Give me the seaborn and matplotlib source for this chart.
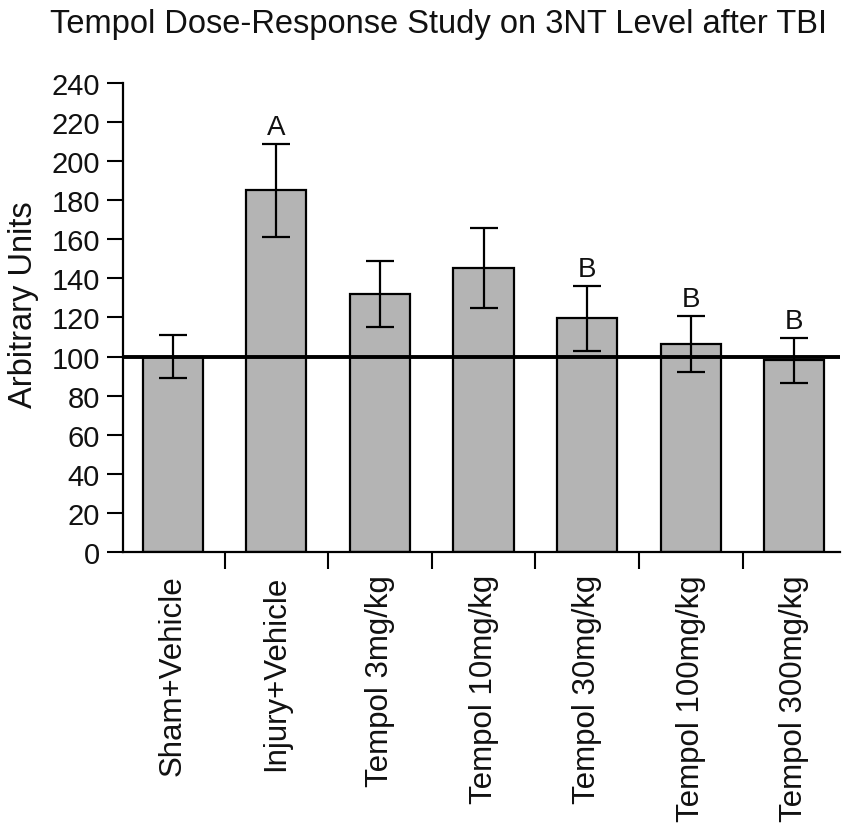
import matplotlib
matplotlib.use("Agg")
import matplotlib.pyplot as plt
import seaborn as sns
import numpy as np
import pandas as pd
from matplotlib.ticker import FixedLocator, MultipleLocator

categories = ["Sham+Vehicle", "Injury+Vehicle", "Tempol 3mg/kg", "Tempol 10mg/kg",
              "Tempol 30mg/kg", "Tempol 100mg/kg", "Tempol 300mg/kg"]
means = [100, 185, 132, 145.5, 119.5, 106.5, 98]
errors = [11, 24, 17, 20.5, 16.5, 14.5, 11.5]
letters = ["", "A", "", "", "B", "B", "B"]
reference_level = 100

sns.set_theme(style="white")
plt.rcParams['font.family'] = ['Liberation Sans', 'DejaVu Sans']

fig = plt.figure(figsize=(8.44, 8.28), dpi=100)
ax = fig.add_axes([0.1457, 0.3321, 0.8495, 0.5665])

df = pd.DataFrame({"group": categories, "value": means})
sns.barplot(data=df, x="group", y="value", color="#b4b4b4", saturation=1,
            edgecolor="black", linewidth=1.6, width=0.58, ax=ax, errorbar=None)

xs = np.arange(len(categories))
ax.errorbar(xs, means, yerr=errors, fmt="none", ecolor="black",
            elinewidth=1.6, capsize=10, capthick=1.6, zorder=5)

ax.axhline(reference_level, color="black", lw=2.8, zorder=6)

for x, m, e, t in zip(xs, means, errors, letters):
    if t:
        ax.text(x, m + e + 5, t, ha="center", va="baseline",
                fontsize=20, color="#111111")

ax.set_xlim(-0.48, 6.44)
ax.set_ylim(0, 240)
ax.yaxis.set_major_locator(MultipleLocator(20))

ax.xaxis.set_minor_locator(FixedLocator(np.arange(-0.5, 6.5, 1.0)))
ax.tick_params(axis="x", which="major", length=0, pad=16, labelsize=22.5,
               labelcolor="#111111")
ax.tick_params(axis="x", which="minor", length=12, width=1.5, color="black",
               direction="out", bottom=True)
ax.tick_params(axis="y", which="major", length=11.5, width=1.5, color="black",
               direction="out", left=True, pad=5, labelsize=21,
               labelcolor="#111111")
ax.set_xticks(xs)
ax.set_xticklabels(categories, rotation=90, va="top", ha="center")

for s in ["top", "right"]:
    ax.spines[s].set_visible(False)
for s in ["left", "bottom"]:
    ax.spines[s].set_color("black")
    ax.spines[s].set_linewidth(1.6)

ax.set_xlabel("")
ax.set_ylabel("Arbitrary Units", fontsize=23.5, color="#111111")
ax.yaxis.set_label_coords(-0.117, 0.53)

fig.text(439 / 844, 1 - 24 / 828, "Tempol Dose-Response Study on 3NT Level after TBI",
         ha="center", va="center", fontsize=23.5, color="#111111")

fig.savefig("out.png", dpi=100)
